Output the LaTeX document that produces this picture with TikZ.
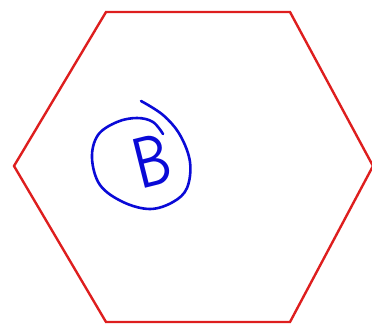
\documentclass[tikz,border=0pt]{standalone}
\usepackage{xcolor}
\usepackage{amsmath}
\definecolor{hexred}{RGB}{222,30,30}
\definecolor{penblue}{RGB}{10,10,215}
\tikzset{
  hexline/.style={draw=hexred, line width=2.4pt, line join=miter},
  scribble/.style={draw=penblue, line width=2.6pt, line cap=round, line join=round},
}
\begin{document}
\begin{tikzpicture}[x=1pt,y=-1pt]
                \useasboundingbox (0,0) rectangle (372,324);
                % hexagon
                \draw[hexline] (106,12) -- (290,12) -- (373,166) -- (290,322)
                    -- (106,322) -- (14,166) -- cycle;
                % circled letter
                \node[text=penblue, rotate=14, xscale=0.8,
                      font=\fontsize{72}{72}\selectfont\sffamily,
                      inner sep=0pt] (letterB) at (152,161) {B};
                \draw[scribble] plot[smooth, tension=0.6] coordinates {
                    (141,101) (163,115) (180,135) (190,162) (187,188) (173,202)
                    (150,209) (123,202) (100,185) (92,158) (98,135) (117,122)
                    (137,118) (153,122) (163,134)};
            \end{tikzpicture}
\end{document}
